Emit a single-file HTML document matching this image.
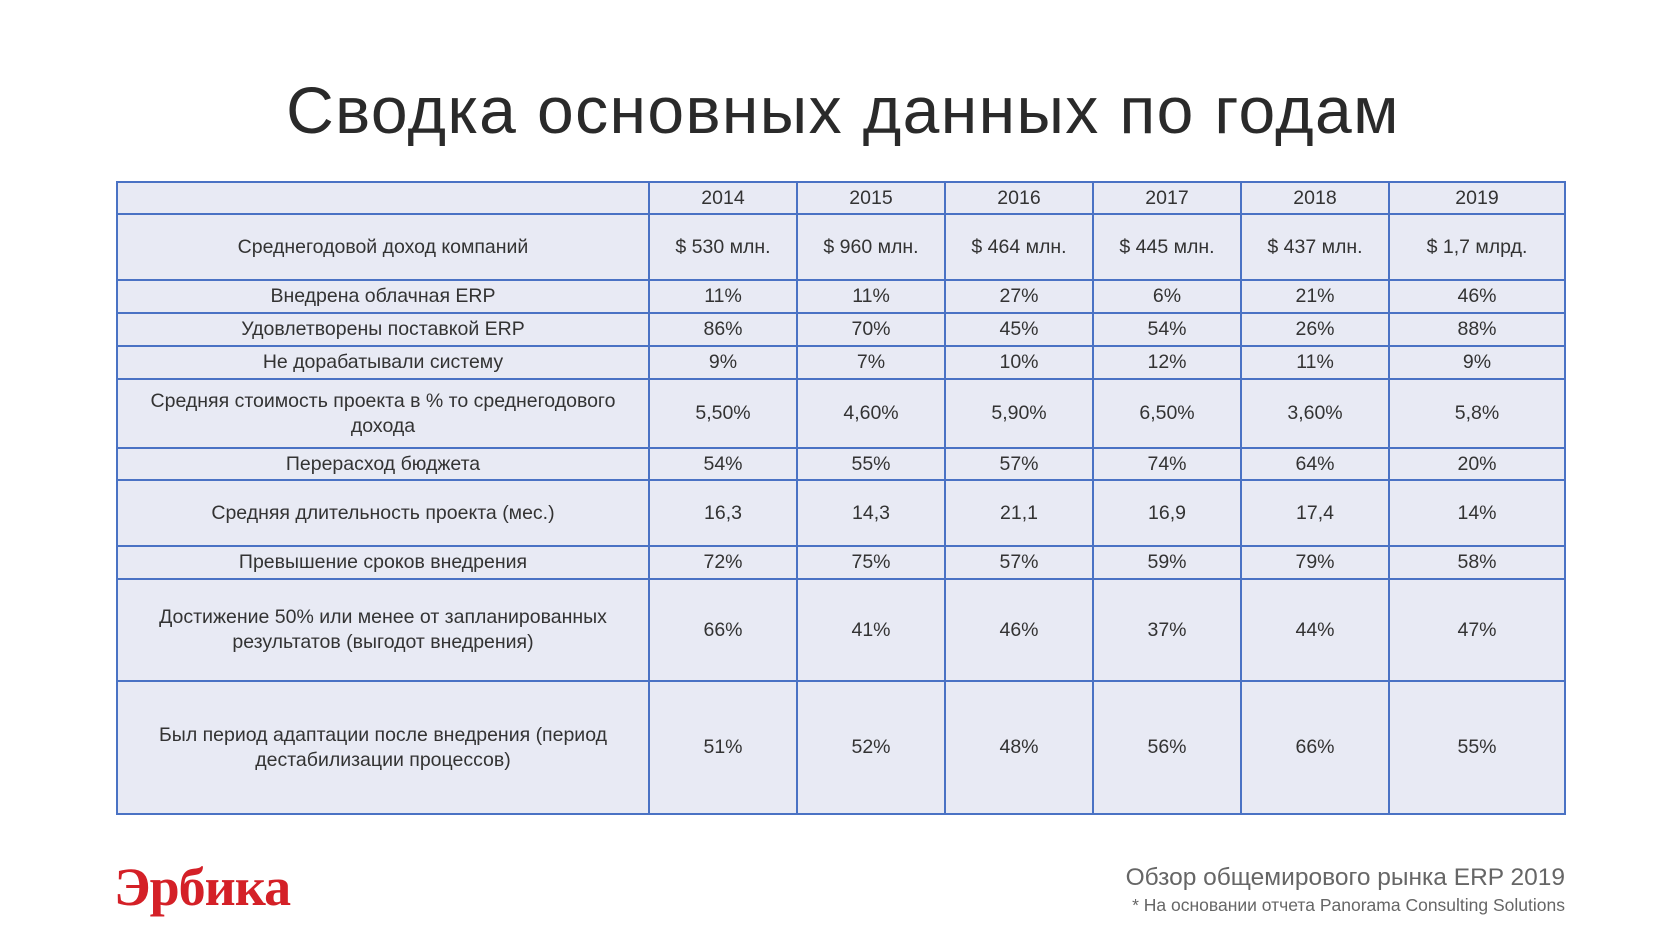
<!DOCTYPE html>
<html><head><meta charset="utf-8"><style>
body{margin:0;width:1680px;height:945px;background:#fff;position:relative;overflow:hidden;font-family:"Liberation Sans",sans-serif;color:#222}
#title{position:absolute;left:0;width:1686px;top:72px;text-align:center;font-size:66px;font-weight:normal;letter-spacing:1.4px;color:#2a2a2a;margin:0}
table{position:absolute;left:116px;top:181px;border-collapse:collapse;table-layout:fixed;background:#e8eaf4}
td{border:2px solid #4a72c4;text-align:center;font-size:19.5px;padding:0 8px;line-height:25px;color:#333}
#logo{position:absolute;left:114px;top:856px;font-family:"Liberation Serif",serif;font-weight:bold;font-size:54px;color:#d42027;letter-spacing:-1px}
#src{position:absolute;right:115px;top:864px;text-align:right;color:#666}
#src .a{font-size:24.5px}
#src .b{font-size:17.5px;margin-top:3px}
</style></head><body>
<h1 id="title">Сводка основных данных по годам</h1>
<table id="tbl"></table>
<div id="logo">Эрбика</div>
<div id="src">
<div class="a">Обзор общемирового рынка ERP 2019</div>
<div class="b">* На основании отчета Panorama Consulting Solutions</div>
</div>
<script>
const years=["2014","2015","2016","2017","2018","2019"];
const rowLabels=["Среднегодовой доход компаний","Внедрена облачная ERP","Удовлетворены поставкой ERP","Не дорабатывали систему","Средняя стоимость проекта в % то среднегодового дохода","Перерасход бюджета","Средняя длительность проекта (мес.)","Превышение сроков внедрения","Достижение 50% или менее от запланированных результатов (выгодот внедрения)","Был период адаптации после внедрения (период дестабилизации процессов)"];
const revenue=["$ 530 млн.","$ 960 млн.","$ 464 млн.","$ 445 млн.","$ 437 млн.","$ 1,7 млрд."];
const cloud=["11%","11%","27%","6%","21%","46%"];
const satisfied=["86%","70%","45%","54%","26%","88%"];
const noCustom=["9%","7%","10%","12%","11%","9%"];
const costPct=["5,50%","4,60%","5,90%","6,50%","3,60%","5,8%"];
const overBudget=["54%","55%","57%","74%","64%","20%"];
const duration=["16,3","14,3","21,1","16,9","17,4","14%"];
const overTime=["72%","75%","57%","59%","79%","58%"];
const lowBenefit=["66%","41%","46%","37%","44%","47%"];
const adaptation=["51%","52%","48%","56%","66%","55%"];
const series=[revenue,cloud,satisfied,noCustom,costPct,overBudget,duration,overTime,lowBenefit,adaptation];
const colW=[532,148,148,148,148,148,176];
const rowH=[32,66,33,33,33,69,32,66,33,102,133];
const t=document.getElementById('tbl');
const cg=document.createElement('colgroup');
colW.forEach(w=>{const c=document.createElement('col');c.style.width=w+'px';cg.appendChild(c);});
t.appendChild(cg);
function mk(txt,name,h,tr){const td=document.createElement('td');td.textContent=txt;


td.style.height=(h-2)+'px';tr.appendChild(td);}
let hr=document.createElement('tr');


mk('','corner-cell',rowH[0],hr);
years.forEach(y=>mk(y,'year-header-'+y,rowH[0],hr));
t.appendChild(hr);
rowLabels.forEach((l,i)=>{const tr=document.createElement('tr');


mk(l,'row-label',rowH[i+1],tr);
series[i].forEach((v,j)=>mk(v,'cell-'+years[j],rowH[i+1],tr));
t.appendChild(tr);});
</script>
</body></html>
